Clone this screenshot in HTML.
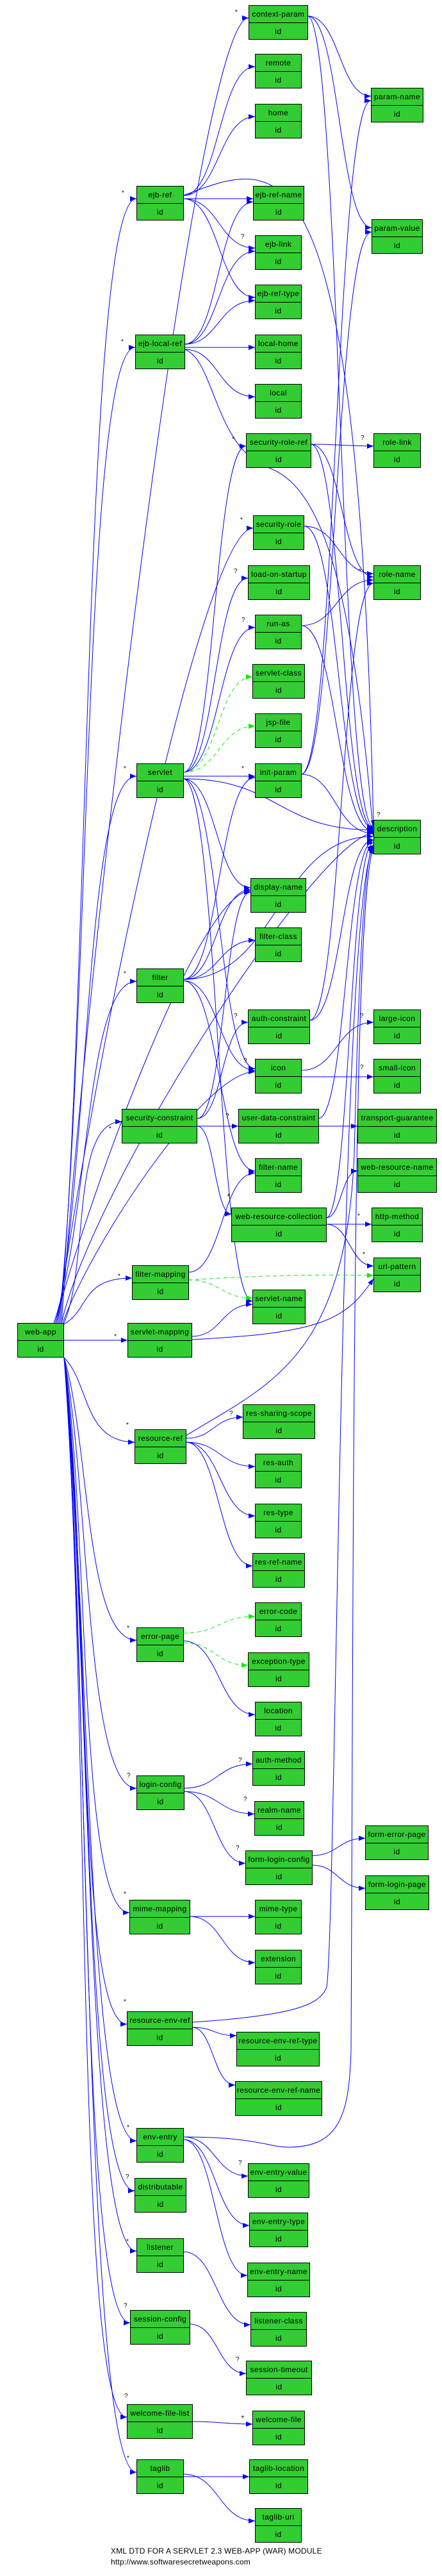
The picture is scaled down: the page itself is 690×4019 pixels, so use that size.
<!DOCTYPE html>
<html><head><meta charset="utf-8">
<style>
html,body{margin:0;padding:0;background:#fff;}
body{width:690px;height:4019px;position:relative;overflow:hidden;font-family:"Liberation Sans",sans-serif;}
.n{position:absolute;height:54px;box-sizing:border-box;border:1px solid #000;background:#33cc33;font-size:12px;color:#000;text-align:center;letter-spacing:0.4px;z-index:2}
.n div{height:26px;line-height:26px;white-space:nowrap;overflow:hidden}
.n div+div{border-top:1px solid #000}
svg{position:absolute;left:0;top:0;z-index:1}
.l{position:absolute;font-size:10px;z-index:3}
.foot{position:absolute;left:173px;top:3972px;font-size:12px;line-height:17px;letter-spacing:0.2px}
</style></head><body>
<svg width="690" height="4019" viewBox="0 0 690 4019">
<defs>
<marker id="a" markerWidth="10" markerHeight="8" refX="10" refY="4" orient="auto" markerUnits="userSpaceOnUse"><path d="M0,0 L10,4 L0,8 z" fill="#0000ff"/></marker>
<marker id="g" markerWidth="10" markerHeight="8" refX="10" refY="4" orient="auto" markerUnits="userSpaceOnUse"><path d="M0,0 L10,4 L0,8 z" fill="#00ee00"/></marker>
</defs>
<g fill="none" stroke="#0000ff" stroke-width="1" marker-end="url(#a)">
<!-- web-app up -->
<path d="M96 2064 C140 1453,308 28,388 28"/>
<path d="M94 2064 C140 1538,133 310,213 310"/>
<path d="M92 2064 C140 1607,131 542,211 542"/>
<path d="M90 2064 C140 1692,315 824,395 824"/>
<path d="M88 2064 C140 1808,133 1211,213 1211"/>
<path d="M86 2064 C140 1862,311 1390,391 1390"/>
<path d="M96 2064 C150 1835,503 1300,583 1300"/>
<path d="M84 2064 C140 1904,133 1531,213 1531"/>
<path d="M98 2064 C140 1946,318 1672,398 1672"/>
<path d="M100 2064 C140 1970,110 1750,190 1750"/>
<path d="M100 2066 C140 2043,126 1994,206 1994"/>
<path d="M100 2091 L199 2091"/>
<!-- web-app down -->
<path d="M100 2118 C140 2158,130 2250,210 2250"/>
<path d="M100 2118 C140 2250,133 2559,213 2559"/>
<path d="M100 2118 C140 2320,133 2790,213 2790"/>
<path d="M100 2118 C140 2378,122 2984,202 2984"/>
<path d="M100 2118 C140 2430,118 3158,198 3158"/>
<path d="M100 2118 C140 2484,133 3340,213 3340"/>
<path d="M100 2118 C140 2508,130 3418,210 3418"/>
<path d="M100 2118 C140 2536,133 3512,213 3512"/>
<path d="M100 2118 C140 2570,123 3624,203 3624"/>
<path d="M100 2118 C140 2614,118 3771,198 3771"/>
<path d="M100 2118 C140 2640,133 3857,213 3857"/>
<!-- ejb-ref -->
<path d="M286 305 C342 305,342 104,398 104"/>
<path d="M286 305 C342 305,342 182,398 182"/>
<path d="M286 310 L395 310"/>
<path d="M286 310 C342 310,342 387,398 387"/>
<path d="M286 310 C342 310,342 464,398 464"/>
<path d="M286 305 C434 250,560 180,583 1290"/>
<!-- ejb-local-ref -->
<path d="M288 537 C341 537,341 315,395 315"/>
<path d="M288 537 C341 537,341 392,398 392"/>
<path d="M288 537 C341 537,341 469,398 469"/>
<path d="M288 542 L398 542"/>
<path d="M288 545 C341 545,341 619,398 619"/>
<path d="M288 545 C335 560,335 700,420 730 C500 760,550 900,583 1305"/>
<!-- context-param -->
<path d="M480 25 C530 25,530 150,579 150"/>
<path d="M480 25 C530 25,530 355,580 355"/>
<path d="M480 25 C531 25,531 1290,583 1290"/>
<!-- security-role-ref -->
<path d="M485 693 C534 693,534 696,583 696"/>
<path d="M485 693 C534 693,534 900,583 900"/>
<path d="M485 693 C534 693,534 1292,583 1292"/>
<!-- servlet -->
<path d="M286 1205 C335 1205,335 696,384 696"/>
<path d="M286 1205 C336 1205,336 902,387 902"/>
<path d="M286 1205 C342 1205,342 979,398 979"/>
<path d="M286 1211 L398 1211"/>
<path d="M286 1215 C434 1215,434 1295,583 1295"/>
<path d="M286 1215 C338 1215,338 1385,391 1385"/>
<path d="M286 1215 C342 1215,342 1667,398 1667"/>
<path d="M286 1215 C340 1215,340 2030,394 2030"/>
<!-- security-role -->
<path d="M475 821 C529 821,529 895,583 895"/>
<path d="M475 821 C529 821,529 1293,583 1293"/>
<!-- run-as -->
<path d="M470 976 C526 976,526 905,583 905"/>
<path d="M470 976 C526 976,526 1297,583 1297"/>
<!-- init-param -->
<path d="M470 1208 C524 1208,524 157,579 157"/>
<path d="M470 1208 C524 1208,524 362,580 362"/>
<path d="M470 1208 C524 1208,524 1300,583 1300"/>
<!-- filter -->
<path d="M286 1528 C342 1528,342 1467,398 1467"/>
<path d="M286 1528 C342 1528,342 1213,398 1213"/>
<path d="M286 1528 C338 1528,338 1388,391 1388"/>
<path d="M286 1528 C434 1528,434 1305,583 1305"/>
<path d="M286 1530 C342 1530,342 1670,398 1670"/>
<path d="M286 1530 C342 1530,342 1827,398 1827"/>
<!-- auth-constraint -->
<path d="M483 1592 C533 1592,533 910,583 910"/>
<path d="M483 1592 C533 1592,533 1310,583 1310"/>
<!-- icon -->
<path d="M470 1670 C526 1670,526 1595,583 1595"/>
<path d="M470 1680 L583 1680"/>
<!-- security-constraint -->
<path d="M308 1745 C350 1745,350 1392,391 1392"/>
<path d="M308 1745 C347 1745,347 1595,387 1595"/>
<path d="M308 1757 L372 1757"/>
<path d="M308 1757 C335 1757,335 1894,361 1894"/>
<!-- user-data-constraint -->
<path d="M497 1745 C540 1745,540 1312,583 1312"/>
<path d="M497 1757 L558 1757"/>
<!-- web-resource-collection -->
<path d="M509 1900 C533 1900,533 1827,558 1827"/>
<path d="M509 1910 L580 1910"/>
<path d="M509 1910 C546 1910,546 1975,583 1975"/>
<path d="M509 1900 C546 1900,546 1315,583 1315"/>
<!-- filter-mapping -->
<path d="M294 1985 C346 1985,346 1830,398 1830"/>
<!-- servlet-mapping -->
<path d="M299 2085 C346 2085,346 2035,394 2035"/>
<path d="M299 2090 C500 2080,540 2060,583 1995"/>
<!-- resource-ref -->
<path d="M290 2244 C334 2244,334 2211,379 2211"/>
<path d="M290 2250 C344 2250,344 2288,398 2288"/>
<path d="M290 2250 C344 2250,344 2365,398 2365"/>
<path d="M290 2250 C342 2250,342 2443,394 2443"/>
<path d="M290 2240 C420 2160,540 2120,553 1800 C560 1500,570 1330,583 1318"/>
<!-- error-page -->
<path d="M286 2560 C342 2560,342 2675,398 2675"/>
<!-- login-config -->
<path d="M287 2790 C340 2790,340 2752,394 2752"/>
<path d="M287 2795 C342 2795,342 2830,397 2830"/>
<path d="M287 2795 C335 2795,335 2907,383 2907"/>
<!-- form-login-config -->
<path d="M487 2895 C528 2895,528 2868,570 2868"/>
<path d="M487 2910 C528 2910,528 2946,570 2946"/>
<!-- mime-mapping -->
<path d="M296 2990 L398 2990"/>
<path d="M296 2990 C347 2990,347 3062,398 3062"/>
<!-- resource-env-ref -->
<path d="M300 3163 C334 3163,334 3176,369 3176"/>
<path d="M300 3163 C333 3163,333 3253,367 3253"/>
<path d="M300 3155 C450 3145,500 3130,510 3100 C525 3000,530 1400,583 1320"/>
<!-- env-entry -->
<path d="M286 3334 C336 3334,336 3395,387 3395"/>
<path d="M286 3338 C337 3338,337 3472,389 3472"/>
<path d="M286 3338 C336 3338,336 3550,386 3550"/>
<path d="M286 3334 C400 3334,420 3350,450 3350 C530 3350,545 3300,548 3200 C552 2400,550 1400,583 1322"/>
<!-- listener -->
<path d="M286 3513 C338 3513,338 3627,391 3627"/>
<!-- session-config -->
<path d="M296 3626 C340 3626,340 3703,384 3703"/>
<!-- welcome-file-list -->
<path d="M300 3778 C347 3778,347 3782,394 3782"/>
<!-- taglib -->
<path d="M286 3864 L389 3864"/>
<path d="M286 3860 C342 3860,342 3933,398 3933"/>
</g>
<g fill="none" stroke="#00ee00" stroke-width="1" stroke-dasharray="6,5" marker-end="url(#g)">
<path d="M286 1205 C340 1205,340 1056,394 1056"/>
<path d="M286 1205 C342 1205,342 1133,398 1133"/>
<path d="M294 1997 C400 1990,500 1988,583 1990"/>
<path d="M294 1997 C344 1997,344 2025,394 2025"/>
<path d="M286 2548 C342 2548,342 2522,398 2522"/>
<path d="M286 2563 C336 2563,336 2598,387 2598"/>
</g>
</svg>

<div class="l" style="left:367px;top:14px">*</div>
<div class="l" style="left:190px;top:296px">*</div>
<div class="l" style="left:189px;top:528px">*</div>
<div class="l" style="left:376px;top:364px">?</div>
<div class="l" style="left:362px;top:680px">*</div>
<div class="l" style="left:375px;top:806px">*</div>
<div class="l" style="left:365px;top:886px">?</div>
<div class="l" style="left:377px;top:962px">?</div>
<div class="l" style="left:193px;top:1194px">*</div>
<div class="l" style="left:377px;top:1194px">*</div>
<div class="l" style="left:560px;top:886px">*</div>
<div class="l" style="left:563px;top:678px">?</div>
<div class="l" style="left:588px;top:1266px">?</div>
<div class="l" style="left:193px;top:1514px">*</div>
<div class="l" style="left:365px;top:1580px">?</div>
<div class="l" style="left:380px;top:1650px">?</div>
<div class="l" style="left:562px;top:1580px">?</div>
<div class="l" style="left:562px;top:1660px">?</div>
<div class="l" style="left:170px;top:1756px">*</div>
<div class="l" style="left:352px;top:1736px">?</div>
<div class="l" style="left:354px;top:1860px">+</div>
<div class="l" style="left:558px;top:1892px">*</div>
<div class="l" style="left:566px;top:1952px">*</div>
<div class="l" style="left:184px;top:1986px">*</div>
<div class="l" style="left:178px;top:2080px">*</div>
<div class="l" style="left:197px;top:2218px">*</div>
<div class="l" style="left:358px;top:2200px">?</div>
<div class="l" style="left:198px;top:2535px">*</div>
<div class="l" style="left:198px;top:2765px">?</div>
<div class="l" style="left:372px;top:2741px">?</div>
<div class="l" style="left:380px;top:2802px">?</div>
<div class="l" style="left:368px;top:2878px">?</div>
<div class="l" style="left:193px;top:2950px">*</div>
<div class="l" style="left:193px;top:3118px">*</div>
<div class="l" style="left:198px;top:3314px">*</div>
<div class="l" style="left:372px;top:3369px">?</div>
<div class="l" style="left:196px;top:3391px">?</div>
<div class="l" style="left:197px;top:3492px">*</div>
<div class="l" style="left:193px;top:3592px">?</div>
<div class="l" style="left:368px;top:3676px">?</div>
<div class="l" style="left:194px;top:3733px">?</div>
<div class="l" style="left:376px;top:3766px">+</div>
<div class="l" style="left:198px;top:3830px">*</div>

<div class="n" style="left:388px;top:8px;width:93px"><div>context-param</div><div>id</div></div>
<div class="n" style="left:398px;top:84px;width:73px"><div>remote</div><div>id</div></div>
<div class="n" style="left:398px;top:162px;width:73px"><div>home</div><div>id</div></div>
<div class="n" style="left:213px;top:290px;width:74px"><div>ejb-ref</div><div>id</div></div>
<div class="n" style="left:395px;top:290px;width:80px"><div>ejb-ref-name</div><div>id</div></div>
<div class="n" style="left:398px;top:367px;width:73px"><div>ejb-link</div><div>id</div></div>
<div class="n" style="left:398px;top:444px;width:73px"><div>ejb-ref-type</div><div>id</div></div>
<div class="n" style="left:211px;top:522px;width:78px"><div>ejb-local-ref</div><div>id</div></div>
<div class="n" style="left:398px;top:522px;width:73px"><div>local-home</div><div>id</div></div>
<div class="n" style="left:398px;top:599px;width:73px"><div>local</div><div>id</div></div>
<div class="n" style="left:384px;top:676px;width:102px"><div>security-role-ref</div><div>id</div></div>
<div class="n" style="left:579px;top:137px;width:82px"><div>param-name</div><div>id</div></div>
<div class="n" style="left:580px;top:342px;width:80px"><div>param-value</div><div>id</div></div>
<div class="n" style="left:583px;top:676px;width:74px"><div>role-link</div><div>id</div></div>
<div class="n" style="left:395px;top:804px;width:80px"><div>security-role</div><div>id</div></div>
<div class="n" style="left:387px;top:882px;width:97px"><div>load-on-startup</div><div>id</div></div>
<div class="n" style="left:398px;top:959px;width:73px"><div>run-as</div><div>id</div></div>
<div class="n" style="left:394px;top:1036px;width:82px"><div>servlet-class</div><div>id</div></div>
<div class="n" style="left:398px;top:1113px;width:73px"><div>jsp-file</div><div>id</div></div>
<div class="n" style="left:213px;top:1191px;width:74px"><div>servlet</div><div>id</div></div>
<div class="n" style="left:398px;top:1191px;width:73px"><div>init-param</div><div>id</div></div>
<div class="n" style="left:583px;top:882px;width:74px"><div>role-name</div><div>id</div></div>
<div class="n" style="left:583px;top:1279px;width:74px"><div>description</div><div>id</div></div>
<div class="n" style="left:391px;top:1370px;width:87px"><div>display-name</div><div>id</div></div>
<div class="n" style="left:398px;top:1447px;width:73px"><div>filter-class</div><div>id</div></div>
<div class="n" style="left:213px;top:1511px;width:74px"><div>filter</div><div>id</div></div>
<div class="n" style="left:387px;top:1575px;width:97px"><div>auth-constraint</div><div>id</div></div>
<div class="n" style="left:398px;top:1652px;width:73px"><div>icon</div><div>id</div></div>
<div class="n" style="left:190px;top:1730px;width:118px"><div>security-constraint</div><div>id</div></div>
<div class="n" style="left:372px;top:1730px;width:126px"><div>user-data-constraint</div><div>id</div></div>
<div class="n" style="left:398px;top:1807px;width:73px"><div>filter-name</div><div>id</div></div>
<div class="n" style="left:361px;top:1884px;width:149px"><div>web-resource-collection</div><div>id</div></div>
<div class="n" style="left:394px;top:2012px;width:83px"><div>servlet-name</div><div>id</div></div>
<div class="n" style="left:206px;top:1974px;width:89px"><div>filter-mapping</div><div>id</div></div>
<div class="n" style="left:27px;top:2064px;width:73px"><div>web-app</div><div>id</div></div>
<div class="n" style="left:199px;top:2064px;width:101px"><div>servlet-mapping</div><div>id</div></div>
<div class="n" style="left:583px;top:1575px;width:74px"><div>large-icon</div><div>id</div></div>
<div class="n" style="left:583px;top:1652px;width:74px"><div>small-icon</div><div>id</div></div>
<div class="n" style="left:558px;top:1730px;width:124px"><div>transport-guarantee</div><div>id</div></div>
<div class="n" style="left:558px;top:1807px;width:124px"><div>web-resource-name</div><div>id</div></div>
<div class="n" style="left:580px;top:1884px;width:80px"><div>http-method</div><div>id</div></div>
<div class="n" style="left:583px;top:1962px;width:74px"><div>url-pattern</div><div>id</div></div>
<div class="n" style="left:379px;top:2191px;width:113px"><div>res-sharing-scope</div><div>id</div></div>
<div class="n" style="left:210px;top:2230px;width:81px"><div>resource-ref</div><div>id</div></div>
<div class="n" style="left:398px;top:2268px;width:73px"><div>res-auth</div><div>id</div></div>
<div class="n" style="left:398px;top:2346px;width:73px"><div>res-type</div><div>id</div></div>
<div class="n" style="left:394px;top:2423px;width:82px"><div>res-ref-name</div><div>id</div></div>
<div class="n" style="left:398px;top:2500px;width:73px"><div>error-code</div><div>id</div></div>
<div class="n" style="left:213px;top:2539px;width:74px"><div>error-page</div><div>id</div></div>
<div class="n" style="left:387px;top:2578px;width:96px"><div>exception-type</div><div>id</div></div>
<div class="n" style="left:398px;top:2655px;width:73px"><div>location</div><div>id</div></div>
<div class="n" style="left:394px;top:2732px;width:82px"><div>auth-method</div><div>id</div></div>
<div class="n" style="left:213px;top:2770px;width:75px"><div>login-config</div><div>id</div></div>
<div class="n" style="left:397px;top:2810px;width:78px"><div>realm-name</div><div>id</div></div>
<div class="n" style="left:383px;top:2887px;width:105px"><div>form-login-config</div><div>id</div></div>
<div class="n" style="left:570px;top:2848px;width:99px"><div>form-error-page</div><div>id</div></div>
<div class="n" style="left:570px;top:2926px;width:100px"><div>form-login-page</div><div>id</div></div>
<div class="n" style="left:202px;top:2964px;width:95px"><div>mime-mapping</div><div>id</div></div>
<div class="n" style="left:398px;top:2964px;width:73px"><div>mime-type</div><div>id</div></div>
<div class="n" style="left:398px;top:3042px;width:73px"><div>extension</div><div>id</div></div>
<div class="n" style="left:198px;top:3138px;width:103px"><div>resource-env-ref</div><div>id</div></div>
<div class="n" style="left:369px;top:3170px;width:130px"><div>resource-env-ref-type</div><div>id</div></div>
<div class="n" style="left:367px;top:3247px;width:136px"><div>resource-env-ref-name</div><div>id</div></div>
<div class="n" style="left:213px;top:3320px;width:74px"><div>env-entry</div><div>id</div></div>
<div class="n" style="left:387px;top:3375px;width:96px"><div>env-entry-value</div><div>id</div></div>
<div class="n" style="left:210px;top:3398px;width:81px"><div>distributable</div><div>id</div></div>
<div class="n" style="left:389px;top:3452px;width:92px"><div>env-entry-type</div><div>id</div></div>
<div class="n" style="left:213px;top:3492px;width:74px"><div>listener</div><div>id</div></div>
<div class="n" style="left:386px;top:3530px;width:98px"><div>env-entry-name</div><div>id</div></div>
<div class="n" style="left:203px;top:3604px;width:94px"><div>session-config</div><div>id</div></div>
<div class="n" style="left:391px;top:3607px;width:88px"><div>listener-class</div><div>id</div></div>
<div class="n" style="left:384px;top:3683px;width:103px"><div>session-timeout</div><div>id</div></div>
<div class="n" style="left:198px;top:3751px;width:103px"><div>welcome-file-list</div><div>id</div></div>
<div class="n" style="left:394px;top:3761px;width:82px"><div>welcome-file</div><div>id</div></div>
<div class="n" style="left:213px;top:3837px;width:74px"><div>taglib</div><div>id</div></div>
<div class="n" style="left:389px;top:3837px;width:92px"><div>taglib-location</div><div>id</div></div>
<div class="n" style="left:398px;top:3913px;width:73px"><div>taglib-uri</div><div>id</div></div>

<div class="foot">XML DTD FOR A SERVLET 2.3 WEB-APP (WAR) MODULE<br>http://www.softwaresecretweapons.com</div>
</body></html>
